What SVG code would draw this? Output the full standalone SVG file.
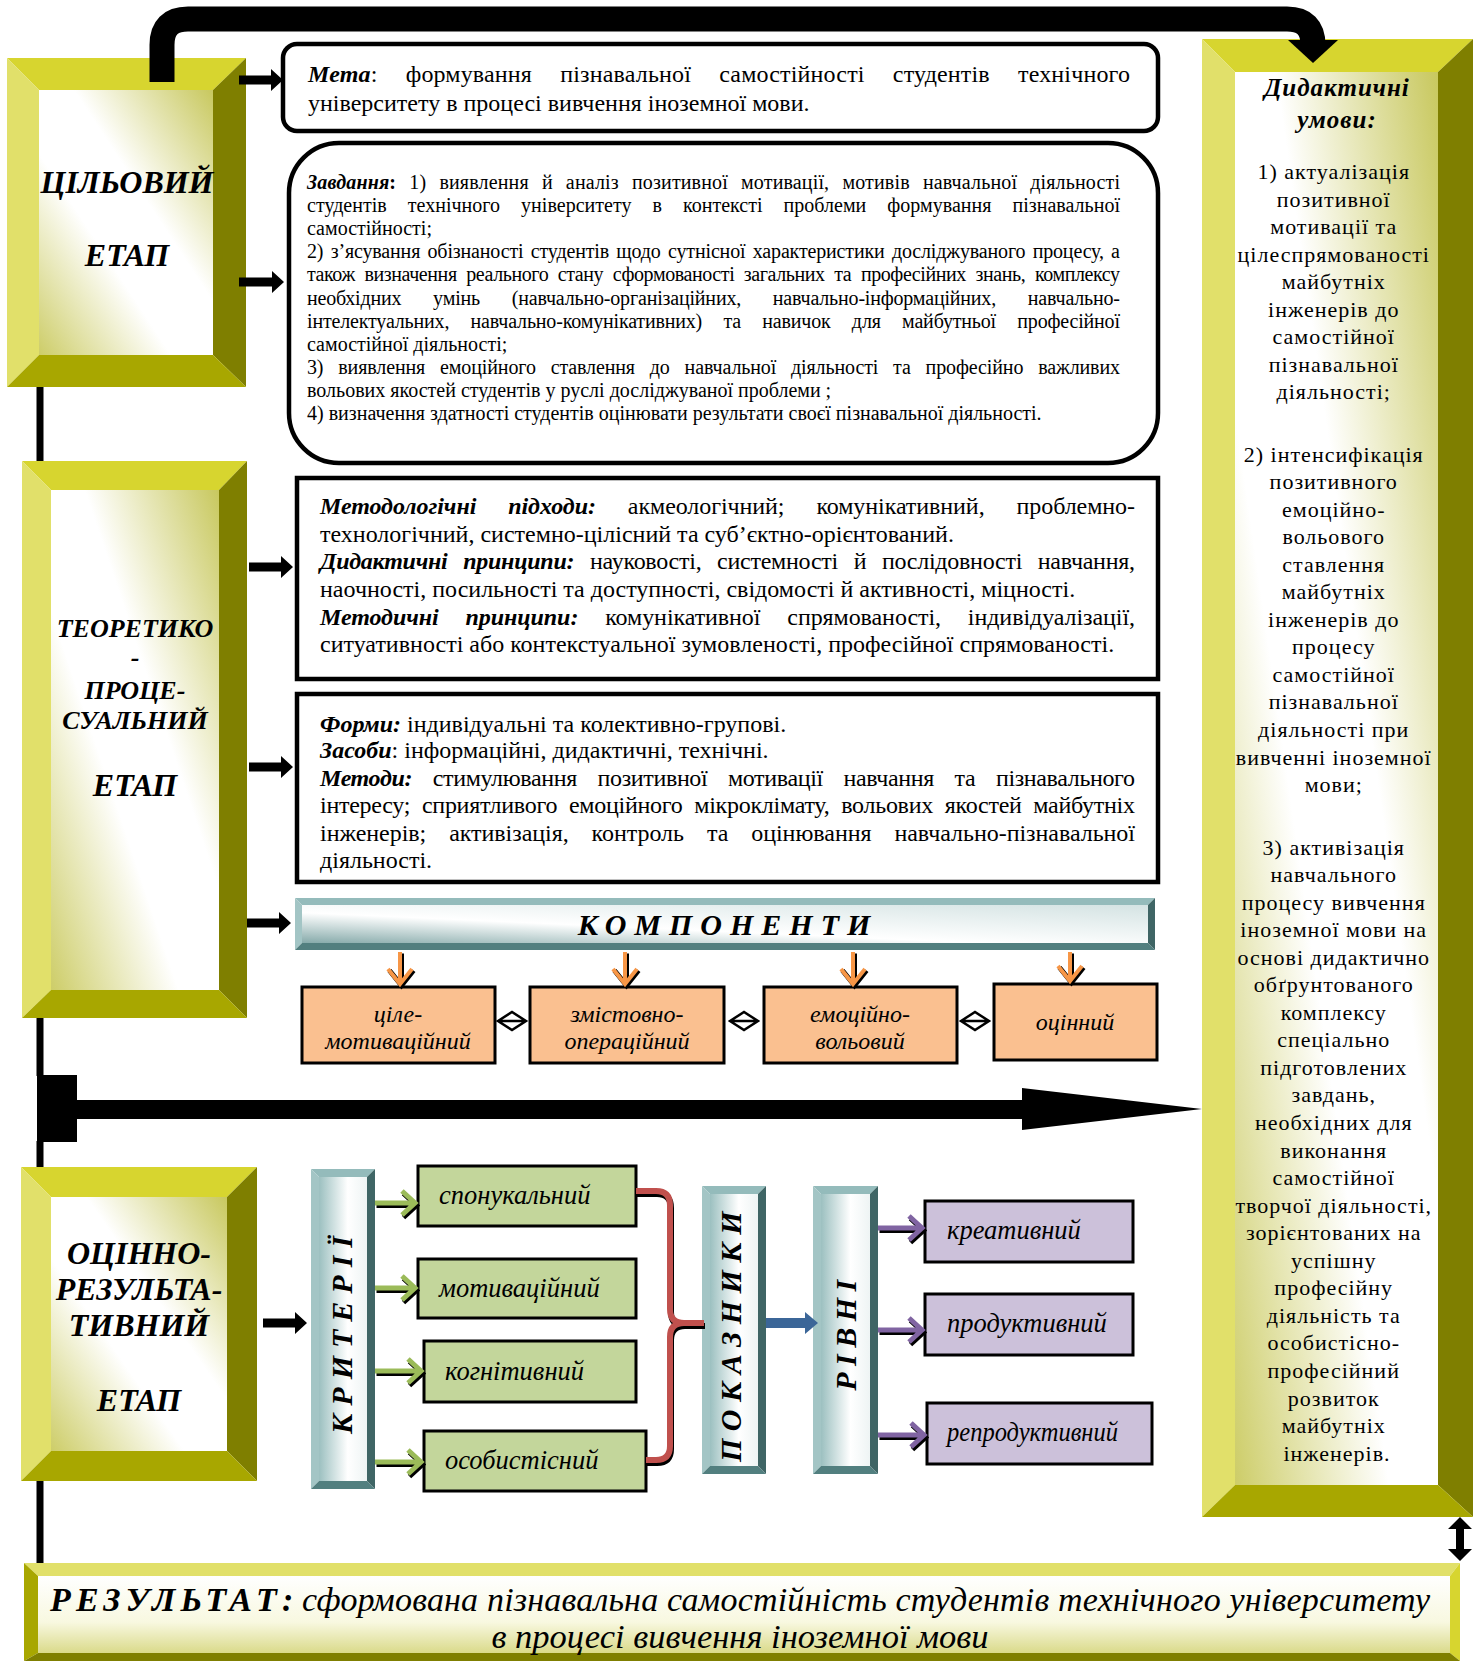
<svg xmlns="http://www.w3.org/2000/svg" width="1481" height="1661" viewBox="0 0 1481 1661">
<defs>
<linearGradient id="yin" x1="1" y1="0" x2="0" y2="1">
<stop offset="0" stop-color="#C8C85E"/><stop offset="0.4" stop-color="#FFFFFF"/><stop offset="0.62" stop-color="#FFFFFF"/><stop offset="1" stop-color="#CDCD68"/>
</linearGradient>
<linearGradient id="rin" x1="0" y1="0" x2="0" y2="1">
<stop offset="0" stop-color="#FFFFFF"/><stop offset="0.6" stop-color="#F8F8E0"/><stop offset="1" stop-color="#DADA8A"/>
</linearGradient>
<linearGradient id="tv" x1="0" y1="0" x2="1" y2="0">
<stop offset="0" stop-color="#9CC0C0"/><stop offset="0.6" stop-color="#FFFFFF"/><stop offset="1" stop-color="#EEF4F4"/>
</linearGradient>
<linearGradient id="th" x1="0" y1="1" x2="1" y2="0">
<stop offset="0" stop-color="#86AAAA"/><stop offset="0.4" stop-color="#FFFFFF"/><stop offset="1" stop-color="#D4E3E3"/>
</linearGradient>
<style>
.t{font-family:"Liberation Serif","DejaVu Serif",serif;fill:#000}
.bi{font-weight:bold;font-style:italic}
.b{font-weight:bold}
.i{font-style:italic}
.yt{fill:#D7D52F}.yl{fill:#E1E06A}.yr{fill:#7F7F00}.yb{fill:#A8A700}
.tt{fill:#94BBBB}.tl{fill:#A3C5C5}.tr{fill:#3F6565}.tb{fill:#527F7F}
.box{fill:#FFFFFF;stroke:#000;stroke-width:4.5}
.comp{fill:#FAC090;stroke:#000;stroke-width:3}
.grn{fill:#C3D69B;stroke:#000;stroke-width:3}
.pur{fill:#CCC1DA;stroke:#000;stroke-width:3}
.blk{fill:#000}
.sh{fill:none;stroke:#000;stroke-width:5}
.ga{fill:none;stroke:#9BBB59;stroke-width:5}
.pa{fill:none;stroke:#8064A2;stroke-width:5}
.oa{fill:none;stroke:#F79646;stroke-width:4}
.z{font-size:20px}
.m{font-size:24px}
</style>
</defs>

<g id="stage1">
<polygon class="yt" points="7,58 246,58 213,90 39,90"/>
<polygon class="yl" points="7,58 39,90 39,355 7,387"/>
<polygon class="yr" points="246,58 246,387 213,355 213,90"/>
<polygon class="yb" points="7,387 39,355 213,355 246,387"/>
<rect x="39" y="90" width="174" height="265" fill="url(#yin)"/>
<text class="t bi" font-size="32" text-anchor="middle"><tspan x="127" y="193">ЦІЛЬОВИЙ</tspan><tspan x="127" y="266">ЕТАП</tspan></text>
</g>

<g id="stage2">
<polygon class="yt" points="22,461 247,461 219,490 51,490"/>
<polygon class="yl" points="22,461 51,490 51,990 22,1018"/>
<polygon class="yr" points="247,461 247,1018 219,990 219,490"/>
<polygon class="yb" points="22,1018 51,990 219,990 247,1018"/>
<rect x="51" y="490" width="168" height="500" fill="url(#yin)"/>
<text class="t bi" font-size="26" text-anchor="middle"><tspan x="135" y="637">ТЕОРЕТИКО</tspan><tspan x="135" y="666">-</tspan><tspan x="135" y="699">ПРОЦЕ-</tspan><tspan x="135" y="729">СУАЛЬНИЙ</tspan><tspan x="135" y="796" font-size="32">ЕТАП</tspan></text>
</g>

<g id="stage3">
<polygon class="yt" points="21,1167 257,1167 227,1197 51,1197"/>
<polygon class="yl" points="21,1167 51,1197 51,1451 21,1481"/>
<polygon class="yr" points="257,1167 257,1481 227,1451 227,1197"/>
<polygon class="yb" points="21,1481 51,1451 227,1451 257,1481"/>
<rect x="51" y="1197" width="176" height="254" fill="url(#yin)"/>
<text class="t bi" font-size="32" text-anchor="middle"><tspan x="139" y="1264">ОЦІННО-</tspan><tspan x="139" y="1300">РЕЗУЛЬТА-</tspan><tspan x="139" y="1336">ТИВНИЙ</tspan><tspan x="139" y="1411">ЕТАП</tspan></text>
</g>

<g id="conditions">
<polygon class="yt" points="1202,39 1473,39 1438,72 1235,72"/>
<polygon class="yl" points="1202,39 1235,72 1235,1485 1202,1517"/>
<polygon class="yr" points="1473,39 1473,1517 1438,1485 1438,72"/>
<polygon class="yb" points="1202,1517 1235,1485 1438,1485 1473,1517"/>
<rect x="1235" y="72" width="203" height="1413" fill="url(#yin)"/>
<text class="t bi" font-size="25" letter-spacing="1" text-anchor="middle"><tspan x="1337" y="96">Дидактичні</tspan><tspan x="1337" y="128">умови:</tspan></text>
<text class="t" font-size="22" letter-spacing="1" text-anchor="middle">
<tspan x="1337" y="179">1) актуалізація</tspan>
<tspan x="1337" y="206.5">позитивної</tspan>
<tspan x="1337" y="234">мотивації та</tspan>
<tspan x="1337" y="261.7">цілеспрямованості</tspan>
<tspan x="1337" y="289.2">майбутніх</tspan>
<tspan x="1337" y="316.8">інженерів до</tspan>
<tspan x="1337" y="344.3">самостійної</tspan>
<tspan x="1337" y="371.9">пізнавальної</tspan>
<tspan x="1337" y="399.4">діяльності;</tspan>
<tspan x="1337" y="461.5">2) інтенсифікація</tspan>
<tspan x="1337" y="489">позитивного</tspan>
<tspan x="1337" y="516.6">емоційно-</tspan>
<tspan x="1337" y="544.1">вольового</tspan>
<tspan x="1337" y="571.7">ставлення</tspan>
<tspan x="1337" y="599.2">майбутніх</tspan>
<tspan x="1337" y="626.8">інженерів до</tspan>
<tspan x="1337" y="654.3">процесу</tspan>
<tspan x="1337" y="681.9">самостійної</tspan>
<tspan x="1337" y="709.4">пізнавальної</tspan>
<tspan x="1337" y="737">діяльності при</tspan>
<tspan x="1337" y="764.5">вивченні іноземної</tspan>
<tspan x="1337" y="792">мови;</tspan>
<tspan x="1337" y="854.5">3) активізація</tspan>
<tspan x="1337" y="882">навчального</tspan>
<tspan x="1337" y="909.6">процесу вивчення</tspan>
<tspan x="1337" y="937.1">іноземної мови на</tspan>
<tspan x="1337" y="964.7">основі дидактично</tspan>
<tspan x="1337" y="992.2">обґрунтованого</tspan>
<tspan x="1337" y="1019.8">комплексу</tspan>
<tspan x="1337" y="1047.3">спеціально</tspan>
<tspan x="1337" y="1074.9">підготовлених</tspan>
<tspan x="1337" y="1102.4">завдань,</tspan>
<tspan x="1337" y="1130">необхідних для</tspan>
<tspan x="1337" y="1157.5">виконання</tspan>
<tspan x="1337" y="1185.1">самостійної</tspan>
<tspan x="1337" y="1212.6">творчої діяльності,</tspan>
<tspan x="1337" y="1240.2">зорієнтованих на</tspan>
<tspan x="1337" y="1267.7">успішну</tspan>
<tspan x="1337" y="1295.3">професійну</tspan>
<tspan x="1337" y="1322.8">діяльність та</tspan>
<tspan x="1337" y="1350.4">особистісно-</tspan>
<tspan x="1337" y="1377.9">професійний</tspan>
<tspan x="1337" y="1405.5">розвиток</tspan>
<tspan x="1337" y="1433">майбутніх</tspan>
<tspan x="1337" y="1460.6">інженерів.</tspan>
</text>
</g>

<g id="result">
<polygon fill="#E1E06A" points="24,1563 1460,1563 1450,1576 38,1576"/>
<polygon fill="#A8A700" points="24,1563 38,1576 38,1653 24,1661"/>
<polygon fill="#D7D52F" points="1460,1563 1460,1661 1450,1653 1450,1576"/>
<polygon fill="#7F7F00" points="24,1661 38,1653 1450,1653 1460,1661"/>
<rect x="38" y="1576" width="1412" height="77" fill="url(#rin)"/>
<text class="t i" font-size="34" x="50" y="1611" textLength="1380" lengthAdjust="spacing"><tspan class="bi" letter-spacing="5">РЕЗУЛЬТАТ</tspan><tspan class="b">:</tspan> сформована пізнавальна самостійність студентів технічного університету</text>
<text class="t i" font-size="34.5" x="740" y="1648" text-anchor="middle">в процесі вивчення іноземної мови</text>
</g>

<g id="goal">
<rect class="box" x="283" y="44" width="875" height="87" rx="14"/>
<text class="t m" x="308" y="82" word-spacing="22" textLength="822" lengthAdjust="spacing"><tspan class="bi">Мета</tspan>: формування пізнавальної самостійності студентів технічного</text>
<text class="t m" x="308" y="111">університету в процесі вивчення іноземної мови.</text>
</g>

<g id="tasks">
<rect class="box" x="289" y="143" width="869" height="320" rx="50"/>
<text class="t z" x="307" y="189" word-spacing="8" textLength="813" lengthAdjust="spacing"><tspan class="bi">Завдання</tspan><tspan class="b">:</tspan> 1) виявлення й аналіз позитивної мотивації, мотивів навчальної діяльності</text>
<text class="t z" x="307" y="212" word-spacing="16" textLength="813" lengthAdjust="spacing">студентів технічного університету в контексті проблеми формування пізнавальної</text>
<text class="t z" x="307" y="235">самостійності;</text>
<text class="t z" x="307" y="258" word-spacing="2.5" textLength="813" lengthAdjust="spacing">2) з’ясування обізнаності студентів щодо сутнісної характеристики досліджуваного процесу, а</text>
<text class="t z" x="307" y="281" word-spacing="5" textLength="813" lengthAdjust="spacing">також визначення реального стану сформованості загальних та професійних знань, комплексу</text>
<text class="t z" x="307" y="304.5" word-spacing="27" textLength="813" lengthAdjust="spacing">необхідних умінь (навчально-організаційних, навчально-інформаційних, навчально-</text>
<text class="t z" x="307" y="327.6" word-spacing="16.5" textLength="813" lengthAdjust="spacing">інтелектуальних, навчально-комунікативних) та навичок для майбутньої професійної</text>
<text class="t z" x="307" y="350.7">самостійної діяльності;</text>
<text class="t z" x="307" y="373.8" word-spacing="10" textLength="813" lengthAdjust="spacing">3) виявлення емоційного ставлення до навчальної діяльності та професійно важливих</text>
<text class="t z" x="307" y="397">вольових якостей студентів у руслі досліджуваної проблеми ;</text>
<text class="t z" x="307" y="420">4) визначення здатності студентів оцінювати результати своєї пізнавальної діяльності.</text>
</g>

<g id="approaches">
<rect class="box" x="297" y="478" width="861" height="201"/>
<text class="t m" x="320" y="514" word-spacing="26" textLength="815" lengthAdjust="spacing"><tspan class="bi">Методологічні підходи:</tspan> акмеологічний; комунікативний, проблемно-</text>
<text class="t m" x="320" y="542">технологічний, системно-цілісний та суб’єктно-орієнтований.</text>
<text class="t m" x="320" y="569" word-spacing="10" textLength="815" lengthAdjust="spacing"><tspan class="bi">Дидактичні принципи:</tspan> науковості, системності й послідовності навчання,</text>
<text class="t m" x="320" y="597">наочності, посильності та доступності, свідомості й активності, міцності.</text>
<text class="t m" x="320" y="625" word-spacing="21" textLength="815" lengthAdjust="spacing"><tspan class="bi">Методичні принципи:</tspan> комунікативної спрямованості, індивідуалізації,</text>
<text class="t m" x="320" y="652">ситуативності або контекстуальної зумовленості, професійної спрямованості.</text>
</g>

<g id="forms">
<rect class="box" x="297" y="694" width="861" height="188"/>
<text class="t m" x="320" y="732"><tspan class="bi">Форми:</tspan> індивідуальні та колективно-групові.</text>
<text class="t m" x="320" y="758"><tspan class="bi">Засоби</tspan>: інформаційні, дидактичні, технічні.</text>
<text class="t m" x="320" y="786" word-spacing="15" textLength="815" lengthAdjust="spacing"><tspan class="bi">Методи:</tspan> стимулювання позитивної мотивації навчання та пізнавального</text>
<text class="t m" x="320" y="813" word-spacing="6" textLength="815" lengthAdjust="spacing">інтересу; сприятливого емоційного мікроклімату, вольових якостей майбутніх</text>
<text class="t m" x="320" y="841" word-spacing="17" textLength="815" lengthAdjust="spacing">інженерів; активізація, контроль та оцінювання навчально-пізнавальної</text>
<text class="t m" x="320" y="868">діяльності.</text>
</g>

<g id="components-bar">
<polygon class="tt" points="295,898 1155,898 1148,905 302,905"/>
<polygon class="tl" points="295,898 302,905 302,943 295,950"/>
<polygon class="tr" points="1155,898 1155,950 1148,943 1148,905"/>
<polygon class="tb" points="295,950 302,943 1148,943 1155,950"/>
<rect x="302" y="905" width="846" height="38" fill="url(#th)"/>
<text class="t bi" font-size="30" letter-spacing="8" x="728" y="935" text-anchor="middle">КОМПОНЕНТИ</text>
</g>

<g id="comp1"><rect class="comp" x="302" y="987" width="193" height="76"/><text class="t i" font-size="24" text-anchor="middle"><tspan x="398" y="1022">ціле-</tspan><tspan x="398" y="1049">мотиваційний</tspan></text></g>
<g id="comp2"><rect class="comp" x="530" y="987" width="194" height="76"/><text class="t i" font-size="24" text-anchor="middle"><tspan x="627" y="1022">змістовно-</tspan><tspan x="627" y="1049">операційний</tspan></text></g>
<g id="comp3"><rect class="comp" x="764" y="987" width="193" height="76"/><text class="t i" font-size="24" text-anchor="middle"><tspan x="860" y="1022">емоційно-</tspan><tspan x="860" y="1049">вольовий</tspan></text></g>
<g id="comp4"><rect class="comp" x="994" y="984" width="163" height="76"/><text class="t i" font-size="24" text-anchor="middle" x="1075" y="1030">оцінний</text></g>

<g id="criteria-bar">
<polygon class="tt" points="311,1169 375,1169 367,1177 319,1177"/>
<polygon class="tl" points="311,1169 319,1177 319,1481 311,1489"/>
<polygon class="tr" points="375,1169 375,1489 367,1481 367,1177"/>
<polygon class="tb" points="311,1489 319,1481 367,1481 375,1489"/>
<rect x="319" y="1177" width="48" height="304" fill="url(#tv)"/>
<text class="t bi" font-size="30" letter-spacing="8" text-anchor="middle" transform="translate(352,1331) rotate(-90)" x="0" y="0">КРИТЕРІЇ</text>
</g>

<g id="crit1"><rect class="grn" x="418" y="1166" width="218" height="60"/><text class="t i" font-size="26.5" x="439" y="1204">спонукальний</text></g>
<g id="crit2"><rect class="grn" x="418" y="1259" width="218" height="59"/><text class="t i" font-size="26.5" x="439" y="1297">мотиваційний</text></g>
<g id="crit3"><rect class="grn" x="424" y="1341" width="212" height="61"/><text class="t i" font-size="26.5" x="445" y="1380">когнітивний</text></g>
<g id="crit4"><rect class="grn" x="424" y="1431" width="222" height="60"/><text class="t i" font-size="26.5" x="445" y="1469">особистісний</text></g>

<g id="indicators-bar">
<polygon class="tt" points="702,1186 766,1186 758,1194 710,1194"/>
<polygon class="tl" points="702,1186 710,1194 710,1466 702,1474"/>
<polygon class="tr" points="766,1186 766,1474 758,1466 758,1194"/>
<polygon class="tb" points="702,1474 710,1466 758,1466 766,1474"/>
<rect x="710" y="1194" width="48" height="272" fill="url(#tv)"/>
<text class="t bi" font-size="30" letter-spacing="7.5" text-anchor="middle" transform="translate(741,1333) rotate(-90)" x="0" y="0">ПОКАЗНИКИ</text>
</g>

<g id="levels-bar">
<polygon class="tt" points="813,1186 878,1186 870,1194 821,1194"/>
<polygon class="tl" points="813,1186 821,1194 821,1466 813,1474"/>
<polygon class="tr" points="878,1186 878,1474 870,1466 870,1194"/>
<polygon class="tb" points="813,1474 821,1466 870,1466 878,1474"/>
<rect x="821" y="1194" width="49" height="272" fill="url(#tv)"/>
<text class="t bi" font-size="30" letter-spacing="6.5" text-anchor="middle" transform="translate(856,1332) rotate(-90)" x="0" y="0">РІВНІ</text>
</g>

<g id="lvl1"><rect class="pur" x="925" y="1201" width="208" height="61"/><text class="t i" font-size="26.5" x="947" y="1239">креативний</text></g>
<g id="lvl2"><rect class="pur" x="925" y="1294" width="208" height="61"/><text class="t i" font-size="26.5" x="947" y="1332">продуктивний</text></g>
<g id="lvl3"><rect class="pur" x="927" y="1403" width="225" height="61"/><text class="t i" font-size="26.5" x="947" y="1441" textLength="171" lengthAdjust="spacingAndGlyphs">репродуктивний</text></g>

<g id="connectors">
<path d="M162,82 V45 Q162,19 188,19 H1287 Q1313,19 1313,45 V42" fill="none" stroke="#000" stroke-width="25"/>
<polygon class="blk" points="1288,40 1338,40 1313,63"/>
<g stroke="#000" stroke-width="7">
<line x1="40" y1="387" x2="40" y2="461"/>
<line x1="40" y1="1018" x2="40" y2="1076"/>
<line x1="40" y1="1141" x2="40" y2="1167"/>
<line x1="40" y1="1481" x2="40" y2="1563"/>
</g>
<rect class="blk" x="37" y="1075" width="40" height="67"/>
<rect class="blk" x="76" y="1100" width="948" height="19"/>
<polygon class="blk" points="1022,1088 1202,1109 1022,1130"/>
<polygon class="blk" points="239,75.5 271,75.5 271,69 283,80 271,91 271,84.5 239,84.5"/>
<polygon class="blk" points="239,277.5 272,277.5 272,271 284,282 272,293 272,286.5 239,286.5"/>
<polygon class="blk" points="249,562.5 281,562.5 281,556 293,567 281,578 281,571.5 249,571.5"/>
<polygon class="blk" points="249,762.5 281,762.5 281,756 293,767 281,778 281,771.5 249,771.5"/>
<polygon class="blk" points="247,918.5 279,918.5 279,912 291,923 279,934 279,927.5 247,927.5"/>
<polygon class="blk" points="263,1318.5 295,1318.5 295,1312 307,1323 295,1334 295,1327.5 263,1327.5"/>
<polygon class="blk" points="1460,1517 1472,1529 1464,1529 1464,1549 1472,1549 1460,1561 1448,1549 1456,1549 1456,1529 1448,1529"/>
<g transform="translate(1.5,1.5)" class="sh" stroke-width="4">
<path d="M400,952 V983 M388,969 L400,984 L412,969"/>
<path d="M625,952 V983 M613,969 L625,984 L637,969"/>
<path d="M853,952 V983 M841,969 L853,984 L865,969"/>
<path d="M1070,952 V980 M1058,966 L1070,981 L1082,966"/>
</g>
<g class="oa">
<path d="M400,952 V983 M388,969 L400,984 L412,969"/>
<path d="M625,952 V983 M613,969 L625,984 L637,969"/>
<path d="M853,952 V983 M841,969 L853,984 L865,969"/>
<path d="M1070,952 V980 M1058,966 L1070,981 L1082,966"/>
</g>
<g fill="none" stroke="#000" stroke-width="2.5">
<path d="M498,1021 L512,1012 L526,1021 L512,1030 Z M498,1021 H526"/>
<path d="M730,1021 L744,1012 L758,1021 L744,1030 Z M730,1021 H758"/>
<path d="M961,1021 L975,1012 L989,1021 L975,1030 Z M961,1021 H989"/>
</g>
<g transform="translate(1.5,2.5)" class="sh">
<path d="M375,1203 H414 M402,1191 L415,1203 L402,1215"/>
<path d="M375,1288 H414 M402,1276 L415,1288 L402,1300"/>
<path d="M375,1371 H420 M408,1359 L421,1371 L408,1383"/>
<path d="M375,1462 H420 M408,1450 L421,1462 L408,1474"/>
<path d="M878,1228 H921 M909,1216 L922,1228 L909,1240"/>
<path d="M878,1330 H921 M909,1318 L922,1330 L909,1342"/>
<path d="M878,1435 H923 M911,1423 L924,1435 L911,1447"/>
</g>
<g class="ga">
<path d="M375,1203 H414 M402,1191 L415,1203 L402,1215"/>
<path d="M375,1288 H414 M402,1276 L415,1288 L402,1300"/>
<path d="M375,1371 H420 M408,1359 L421,1371 L408,1383"/>
<path d="M375,1462 H420 M408,1450 L421,1462 L408,1474"/>
</g>
<g class="pa">
<path d="M878,1228 H921 M909,1216 L922,1228 L909,1240"/>
<path d="M878,1330 H921 M909,1318 L922,1330 L909,1342"/>
<path d="M878,1435 H923 M911,1423 L924,1435 L911,1447"/>
</g>
<path d="M636,1191 H656 Q670,1191 670,1205 V1309 Q670,1323 684,1323 H704 M684,1323 Q670,1323 670,1337 V1446 Q670,1460 656,1460 H646" fill="none" stroke="#000" stroke-width="6" transform="translate(1,3)"/>
<path d="M636,1191 H656 Q670,1191 670,1205 V1309 Q670,1323 684,1323 H704 M684,1323 Q670,1323 670,1337 V1446 Q670,1460 656,1460 H646" fill="none" stroke="#C0504D" stroke-width="6"/>
<polygon fill="#3B6698" points="766,1318 805,1318 805,1312 818,1323 805,1334 805,1328 766,1328"/>
</g>
</svg>
